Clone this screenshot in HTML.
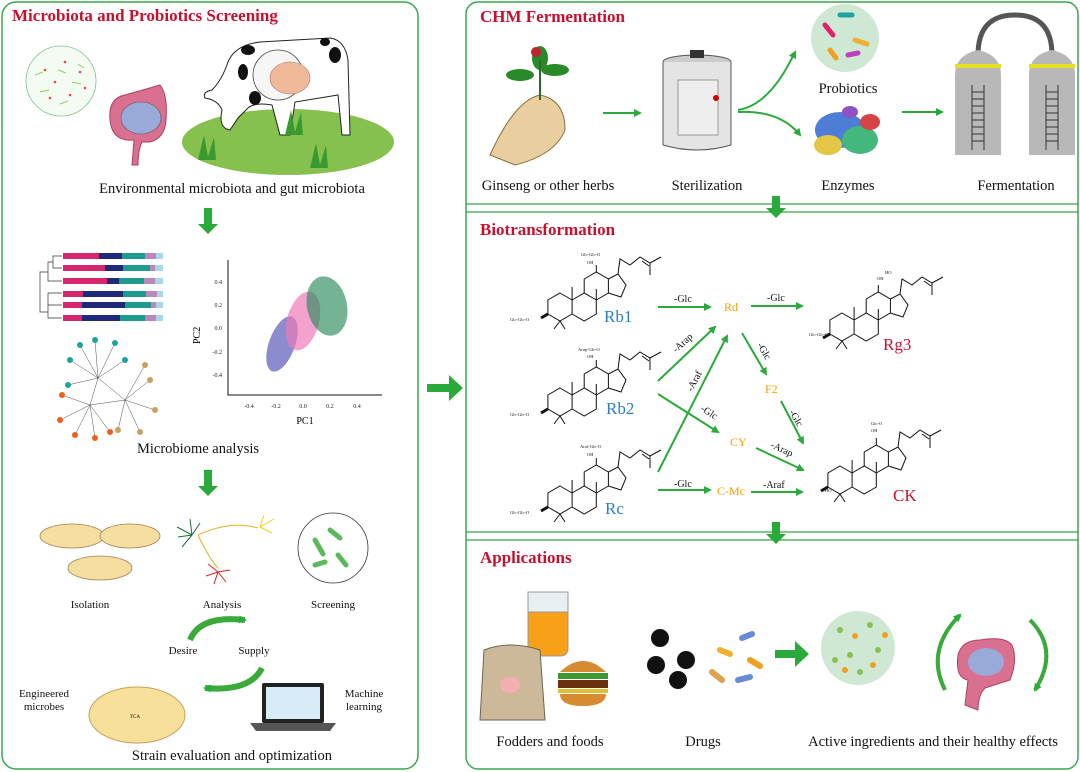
<!DOCTYPE html>
<html><head><meta charset="utf-8"><style>
html,body{margin:0;padding:0;background:#fff}
svg{display:block}
text{font-family:"Liberation Serif",serif}
.t{font-size:14.5px;fill:#111}
.h{font-size:17px;font-weight:bold;fill:#c8102e}
.ax{font-size:6px;fill:#222}
.bl{font-size:17px;fill:#2a7fc8}
.rd{font-size:17px;fill:#c8102e}
.or{font-size:12px;fill:#f5a000}
.en{font-size:10px;fill:#111}
.sub{font-size:4.5px;fill:#111}
</style></head><body>
<svg width="1080" height="772" viewBox="0 0 1080 772" xmlns="http://www.w3.org/2000/svg">
<defs>
<marker id="ah" markerWidth="8" markerHeight="8" refX="6" refY="4" orient="auto" markerUnits="userSpaceOnUse"><path d="M0,0 L8,4 L0,8 Z" fill="#2aaa3a"/></marker>
<g id="ster" fill="none" stroke="#111" stroke-width="1">
<path d="M0,-14 L12.1,-7 L12.1,7 L0,14 L-12.1,7 L-12.1,-7 Z"/>
<path d="M12.1,-7 L24.2,-14 L36.3,-7 L36.3,7 L24.2,14 L12.1,7"/>
<path d="M24.2,-14 L24.2,-28 L36.3,-35 L48.4,-28 L48.4,-14 L36.3,-7"/>
<path d="M48.4,-28 L58,-33 L66,-22 L61,-10 L48.4,-14"/>
<path d="M58,-33 L60,-48 L70,-42 L80,-50 L90,-44 L101,-50 M90,-44 L90,-32 M82,-46 L89,-41"/>
<path d="M12.1,-7 L12.1,-20 M36.3,-7 L36.3,-18 M36.3,-35 L36.3,-42 M0,14 L-6,22 M0,14 L5,22"/>
<path d="M-12.1,7 L-19,11" stroke-width="3"/>
</g>
</defs>

<!-- panels -->
<rect x="2" y="2" width="416" height="767" rx="14" fill="none" stroke="#3aa84a" stroke-width="1.5"/>
<rect x="466" y="2" width="612" height="767" rx="12" fill="none" stroke="#3aa84a" stroke-width="1.5"/>
<line x1="466" y1="204" x2="1078" y2="204" stroke="#3aa84a" stroke-width="1.3"/>
<line x1="466" y1="212" x2="1078" y2="212" stroke="#3aa84a" stroke-width="1.3"/>
<line x1="466" y1="532" x2="1078" y2="532" stroke="#3aa84a" stroke-width="1.3"/>
<line x1="466" y1="540" x2="1078" y2="540" stroke="#3aa84a" stroke-width="1.3"/>

<!-- left panel -->
<text class="h" x="12" y="21">Microbiota and Probiotics Screening</text>
<circle cx="61" cy="81" r="35" fill="#f4fbf2" stroke="#7cc08a" stroke-width="0.8"/>
<g fill="#e44"><circle cx="45" cy="70" r="1.3"/><circle cx="55" cy="82" r="1.3"/><circle cx="70" cy="95" r="1.3"/><circle cx="80" cy="72" r="1.3"/><circle cx="50" cy="98" r="1.3"/><circle cx="65" cy="62" r="1.3"/><circle cx="85" cy="88" r="1.3"/></g>
<g stroke="#9c6" stroke-width="1"><path d="M35,75 l8,-3 M58,70 l8,3 M40,92 l9,-2 M72,82 l9,2 M60,104 l8,-3 M78,64 l6,4"/></g>
<!-- intestine -->
<path d="M132,165 L134,140 Q112,142 110,120 Q108,98 125,95 Q150,88 160,85 Q168,95 166,120 Q165,138 150,142 L142,142 Q138,150 138,165 Z" fill="#d9708f" stroke="#b04060" stroke-width="1"/>
<ellipse cx="141" cy="118" rx="20" ry="16" fill="#9aaad8" stroke="#556" stroke-width="0.6"/>
<!-- field & cow -->
<ellipse cx="288" cy="142" rx="106" ry="33" fill="#86c04e"/>
<path d="M228,62 Q235,45 260,42 L330,38 Q345,40 348,60 L350,135 L342,135 L338,95 L295,102 L290,135 L280,135 L272,105 Q255,102 248,108 L238,118 L230,130 Q218,128 222,110 Q218,100 205,98 Q202,92 212,90 Q222,80 228,62 Z" fill="#fff" stroke="#222" stroke-width="1"/>
<circle cx="278" cy="75" r="25" fill="#f6f6f6" stroke="#444" stroke-width="0.8"/>
<ellipse cx="290" cy="78" rx="20" ry="16" fill="#f0b999" stroke="#a76" stroke-width="0.6"/>
<g fill="#111"><ellipse cx="248" cy="50" rx="7" ry="5"/><ellipse cx="243" cy="72" rx="5" ry="8"/><ellipse cx="255" cy="98" rx="6" ry="7"/><ellipse cx="335" cy="55" rx="6" ry="8"/><ellipse cx="325" cy="42" rx="5" ry="4"/></g>
<g fill="#3a9a30"><path d="M198,160 l6,-25 l4,22 l6,-20 l2,23 z"/><path d="M285,135 l6,-25 l4,22 l6,-20 l2,23 z"/><path d="M310,168 l6,-25 l4,22 l6,-20 l2,23 z"/></g>
<text class="t" x="232" y="193" text-anchor="middle">Environmental microbiota and gut microbiota</text>
<path d="M204,208 h8 v16 h6 l-10,10 l-10,-10 h6 z" fill="#2aaa3a"/>
<!-- bars -->
<g>
<g transform="translate(63,253)"><rect width="36" height="6" fill="#d6266e"/><rect x="36" width="23" height="6" fill="#1e2a78"/><rect x="59" width="23" height="6" fill="#1f9a8e"/><rect x="82" width="11" height="6" fill="#bb88bb"/><rect x="93" width="7" height="6" fill="#a8d8e8"/></g>
<g transform="translate(63,265)"><rect width="42" height="6" fill="#d6266e"/><rect x="42" width="18" height="6" fill="#1e2a78"/><rect x="60" width="27" height="6" fill="#1f9a8e"/><rect x="87" width="5" height="6" fill="#bb88bb"/><rect x="92" width="8" height="6" fill="#a8d8e8"/></g>
<g transform="translate(63,278)"><rect width="44" height="6" fill="#d6266e"/><rect x="44" width="12" height="6" fill="#1e2a78"/><rect x="56" width="25" height="6" fill="#1f9a8e"/><rect x="81" width="11" height="6" fill="#bb88bb"/><rect x="92" width="8" height="6" fill="#a8d8e8"/></g>
<g transform="translate(63,291)"><rect width="20" height="6" fill="#d6266e"/><rect x="20" width="40" height="6" fill="#1e2a78"/><rect x="60" width="23" height="6" fill="#1f9a8e"/><rect x="83" width="11" height="6" fill="#bb88bb"/><rect x="94" width="6" height="6" fill="#a8d8e8"/></g>
<g transform="translate(63,302)"><rect width="19" height="6" fill="#d6266e"/><rect x="19" width="43" height="6" fill="#1e2a78"/><rect x="62" width="26" height="6" fill="#1f9a8e"/><rect x="88" width="5" height="6" fill="#bb88bb"/><rect x="93" width="7" height="6" fill="#a8d8e8"/></g>
<g transform="translate(63,315)"><rect width="19" height="6" fill="#d6266e"/><rect x="19" width="38" height="6" fill="#1e2a78"/><rect x="57" width="25" height="6" fill="#1f9a8e"/><rect x="82" width="11" height="6" fill="#bb88bb"/><rect x="93" width="7" height="6" fill="#a8d8e8"/></g>
<path d="M62,256 H53 V268 H62 M53,262 H48 V281 H62 M48,272 H40 V312 H48 M48,293 V318 H62 M48,305 H62 M48,293 H62" fill="none" stroke="#333" stroke-width="0.7"/>
</g>
<!-- scatter -->
<path d="M228,260 V395 H382" fill="none" stroke="#111" stroke-width="1"/>
<g class="ax" text-anchor="end"><text x="222" y="284">0.4</text><text x="222" y="307">0.2</text><text x="222" y="330">0.0</text><text x="222" y="354">-0.2</text><text x="222" y="377">-0.4</text></g>
<g class="ax" text-anchor="middle"><text x="249" y="408">-0.4</text><text x="276" y="408">-0.2</text><text x="303" y="408">0.0</text><text x="330" y="408">0.2</text><text x="357" y="408">0.4</text></g>
<text x="305" y="424" text-anchor="middle" style="font-size:10px">PC1</text>
<text x="0" y="0" transform="translate(200,344) rotate(-90)" style="font-size:10px">PC2</text>
<ellipse cx="282" cy="344" rx="13" ry="29" transform="rotate(20 282 344)" fill="#5a5ab8" opacity="0.7"/>
<ellipse cx="303" cy="321" rx="16" ry="30" transform="rotate(15 303 321)" fill="#ee7ab8" opacity="0.7"/>
<ellipse cx="327" cy="306" rx="20" ry="30" transform="rotate(-12 327 306)" fill="#2a8a5a" opacity="0.65"/>
<!-- network -->
<g stroke="#222" stroke-width="0.4" fill="none">
<path d="M98,378 L80,345 M98,378 L95,340 M98,378 L115,343 M98,378 L70,360 M98,378 L125,360 M98,378 L68,385 M90,405 L62,395 M90,405 L60,420 M90,405 L75,435 M90,405 L95,438 M90,405 L110,432 M125,400 L150,380 M125,400 L155,410 M125,400 L140,432 M125,400 L118,430 M125,400 L145,365 M98,378 L90,405 L125,400 L98,378"/>
</g>
<g fill="#1ba39c"><circle cx="80" cy="345" r="3"/><circle cx="95" cy="340" r="3"/><circle cx="115" cy="343" r="3"/><circle cx="70" cy="360" r="3"/><circle cx="68" cy="385" r="3"/><circle cx="125" cy="360" r="3"/></g>
<g fill="#f06018"><circle cx="62" cy="395" r="3"/><circle cx="60" cy="420" r="3"/><circle cx="75" cy="435" r="3"/><circle cx="95" cy="438" r="3"/><circle cx="110" cy="432" r="3"/></g>
<g fill="#c9a060"><circle cx="150" cy="380" r="3"/><circle cx="155" cy="410" r="3"/><circle cx="140" cy="432" r="3"/><circle cx="118" cy="430" r="3"/><circle cx="145" cy="365" r="3"/></g>
<text class="t" x="198" y="453" text-anchor="middle">Microbiome analysis</text>
<path d="M204,470 h8 v16 h6 l-10,10 l-10,-10 h6 z" fill="#2aaa3a"/>
<!-- petri -->
<g stroke="#a08050" stroke-width="0.8" fill="#f4dfa0"><ellipse cx="72" cy="536" rx="32" ry="12"/><ellipse cx="130" cy="536" rx="30" ry="12"/><ellipse cx="100" cy="568" rx="32" ry="12"/></g>
<text class="en" x="90" y="608" text-anchor="middle" style="font-size:11px">Isolation</text>
<g stroke="#1e6a3a" stroke-width="1"><path d="M192,535 l-15,-8 M192,535 l-14,2 M192,535 l-10,12 M192,535 l-2,-16 M192,535 l8,-12"/></g>
<g stroke="#f0d020" stroke-width="1"><path d="M260,527 l14,-8 M260,527 l12,6 M260,527 l4,-12"/></g>
<g stroke="#e02020" stroke-width="1"><path d="M218,572 l-10,-8 M218,572 l-12,4 M218,572 l-4,12 M218,572 l8,10 M218,572 l12,-2"/></g>
<path d="M198,535 Q210,560 218,568 M198,535 Q230,520 258,528" fill="none" stroke="#e0b020" stroke-width="1"/>
<text class="en" x="222" y="608" text-anchor="middle" style="font-size:11px">Analysis</text>
<circle cx="333" cy="548" r="35" fill="#fff" stroke="#333" stroke-width="0.8"/>
<g stroke="#5cb85c" stroke-width="5" stroke-linecap="round"><path d="M315,540 l8,14 M330,530 l10,8 M338,555 l8,10 M315,565 l10,-3"/></g>
<text class="en" x="333" y="608" text-anchor="middle" style="font-size:11px">Screening</text>
<path d="M190,640 Q200,615 245,620" fill="none" stroke="#3aaa3a" stroke-width="6" marker-end="url(#ah)"/>
<path d="M262,668 Q250,692 205,688" fill="none" stroke="#3aaa3a" stroke-width="6" marker-end="url(#ah)"/>
<text class="en" x="183" y="654" text-anchor="middle" style="font-size:11px">Desire</text>
<text class="en" x="254" y="654" text-anchor="middle" style="font-size:11px">Supply</text>
<ellipse cx="137" cy="715" rx="48" ry="28" fill="#f7e09a" stroke="#c9a060"/>
<text x="130" y="718" style="font-size:5px">TCA</text>
<text class="en" x="44" y="697" text-anchor="middle" style="font-size:11px">Engineered</text>
<text class="en" x="44" y="710" text-anchor="middle" style="font-size:11px">microbes</text>
<rect x="262" y="683" width="62" height="40" rx="2" fill="#222"/>
<rect x="266" y="687" width="54" height="32" fill="#d8ecf8"/>
<path d="M250,723 h86 l-6,8 h-74 z" fill="#555"/>
<text class="en" x="364" y="697" text-anchor="middle" style="font-size:11px">Machine</text>
<text class="en" x="364" y="710" text-anchor="middle" style="font-size:11px">learning</text>
<text class="t" x="232" y="760" text-anchor="middle">Strain evaluation and optimization</text>
<!-- big arrow -->
<path d="M427,384 h22 v-9 l14,13 l-14,13 v-9 h-22 z" fill="#2aaa3a"/>

<!-- CHM -->
<text class="h" x="480" y="22">CHM Fermentation</text>
<path d="M490,155 Q515,100 540,95 Q565,100 565,130 Q555,155 515,165 Z" fill="#e9cfa0" stroke="#8a6a3a"/>
<g fill="#2a8a2a"><ellipse cx="520" cy="75" rx="14" ry="6"/><ellipse cx="555" cy="70" rx="14" ry="6"/><ellipse cx="540" cy="58" rx="8" ry="12"/></g>
<circle cx="536" cy="52" r="5" fill="#c02030"/>
<line x1="540" y1="60" x2="540" y2="100" stroke="#2a6a2a" stroke-width="2"/>
<text class="t" x="548" y="190" text-anchor="middle">Ginseng or other herbs</text>
<path d="M603,113 H640" stroke="#2aaa3a" stroke-width="2" marker-end="url(#ah)"/>
<ellipse cx="697" cy="62" rx="34" ry="7" fill="#ccc" stroke="#555"/>
<path d="M663,62 V145 Q697,155 731,145 V62" fill="#e4e4e4" stroke="#555"/>
<rect x="690" y="50" width="14" height="8" fill="#333"/>
<rect x="678" y="80" width="40" height="55" fill="#eee" stroke="#999"/>
<circle cx="716" cy="98" r="3" fill="#c00"/>
<text class="t" x="707" y="190" text-anchor="middle">Sterilization</text>
<path d="M738,110 Q770,105 795,52" fill="none" stroke="#2aaa3a" stroke-width="2" marker-end="url(#ah)"/>
<path d="M738,112 Q780,110 800,135" fill="none" stroke="#2aaa3a" stroke-width="2" marker-end="url(#ah)"/>
<circle cx="845" cy="38" r="34" fill="#cfe8d4"/>
<g stroke-width="5" stroke-linecap="round"><path d="M825,25 l8,10" stroke="#e0206a"/><path d="M840,15 l12,0" stroke="#20a0a0"/><path d="M855,40 l12,4" stroke="#f0b030"/><path d="M830,50 l6,8" stroke="#f0a020"/><path d="M848,55 l10,-2" stroke="#c040c0"/></g>
<text class="t" x="848" y="93" text-anchor="middle">Probiotics</text>
<g opacity="0.9"><ellipse cx="840" cy="130" rx="25" ry="18" fill="#3a70d0"/><ellipse cx="860" cy="140" rx="18" ry="14" fill="#30b070"/><ellipse cx="828" cy="145" rx="14" ry="10" fill="#e0c030"/><ellipse cx="870" cy="122" rx="10" ry="8" fill="#d03030"/><ellipse cx="850" cy="112" rx="8" ry="6" fill="#8040c0"/></g>
<text class="t" x="848" y="190" text-anchor="middle">Enzymes</text>
<path d="M902,112 H942" stroke="#2aaa3a" stroke-width="2" marker-end="url(#ah)"/>
<path d="M978,55 Q978,15 1015,15 Q1052,15 1052,55" fill="none" stroke="#555" stroke-width="5"/>
<path d="M955,75 Q955,55 978,50 Q1001,55 1001,75 V155 H955 Z" fill="#b8b8b8"/>
<path d="M1029,75 Q1029,55 1052,50 Q1075,55 1075,75 V155 H1029 Z" fill="#b8b8b8"/>
<rect x="955" y="64" width="46" height="4" fill="#e4e020"/><rect x="1029" y="64" width="46" height="4" fill="#e4e020"/>
<g stroke="#333" stroke-width="1" fill="none"><path d="M972,85 V150 M984,85 V150 M972,92h12 M972,99h12 M972,106h12 M972,113h12 M972,120h12 M972,127h12 M972,134h12 M972,141h12"/><path d="M1046,85 V150 M1058,85 V150 M1046,92h12 M1046,99h12 M1046,106h12 M1046,113h12 M1046,120h12 M1046,127h12 M1046,134h12 M1046,141h12"/></g>
<text class="t" x="1016" y="190" text-anchor="middle">Fermentation</text>
<path d="M772,196 h8 v12 h6 l-10,10 l-10,-10 h6 z" fill="#2aaa3a"/>

<!-- Biotransformation -->
<text class="h" x="480" y="235">Biotransformation</text>
<use href="#ster" x="560" y="307"/>
<use href="#ster" x="560" y="402"/>
<use href="#ster" x="560" y="500"/>
<use href="#ster" x="842" y="327"/>
<use href="#ster" x="840" y="480"/>
<text class="sub" x="510" y="321">Glc-Glc-O</text>
<text class="sub" x="510" y="416">Glc-Glc-O</text>
<text class="sub" x="510" y="514">Glc-Glc-O</text>
<text class="sub" x="809" y="336">Glc-Glc-O</text>
<text class="sub" x="825" y="492">HO</text>
<text class="sub" x="581" y="256">Glc-Glc-O</text>
<text class="sub" x="578" y="351">Arap-Glc-O</text>
<text class="sub" x="580" y="448">Araf-Glc-O</text>
<text class="sub" x="885" y="274">HO</text>
<text class="sub" x="871" y="425">Glc-O</text>
<g class="sub"><text x="587" y="264">OH</text><text x="587" y="358">OH</text><text x="587" y="456">OH</text><text x="877" y="280">OH</text><text x="871" y="432">OH</text></g>
<text class="bl" x="604" y="322">Rb1</text>
<text class="bl" x="606" y="414">Rb2</text>
<text class="bl" x="605" y="514">Rc</text>
<text class="rd" x="883" y="350">Rg3</text>
<text class="rd" x="893" y="501">CK</text>
<text class="or" x="724" y="311">Rd</text>
<text class="or" x="765" y="393">F2</text>
<text class="or" x="730" y="446">CY</text>
<text class="or" x="717" y="495">C-Mc</text>
<g stroke="#2aaa3a" stroke-width="2" marker-end="url(#ah)">
<path d="M658,307 H710"/><path d="M751,306 H802"/>
<path d="M658,381 L715,327"/><path d="M658,472 L727,336"/>
<path d="M658,394 L718,432"/><path d="M742,333 L766,374"/>
<path d="M781,401 L803,443"/><path d="M756,448 L803,470"/>
<path d="M751,492 H802"/><path d="M658,490 H710"/>
</g>
<g class="en">
<text x="674" y="302">-Glc</text><text x="767" y="301">-Glc</text><text x="674" y="487">-Glc</text><text x="763" y="488">-Araf</text>
<text transform="translate(676,353) rotate(-42)">-Arap</text>
<text transform="translate(692,392) rotate(-62)">-Araf</text>
<text transform="translate(700,410) rotate(33)">-Glc</text>
<text transform="translate(757,345) rotate(60)">-Glc</text>
<text transform="translate(789,412) rotate(60)">-Glc</text>
<text transform="translate(770,447) rotate(25)">-Arap</text>
</g>
<path d="M772,522 h8 v12 h6 l-10,10 l-10,-10 h6 z" fill="#2aaa3a"/>

<!-- Applications -->
<text class="h" x="480" y="563">Applications</text>
<path d="M528,598 h40 v50 q0,8 -8,8 h-24 q-8,0 -8,-8 z" fill="#f8a018" stroke="#999"/>
<rect x="528" y="592" width="40" height="20" fill="#e8f0f4" stroke="#999"/>
<path d="M484,650 Q510,640 540,650 L545,720 H480 Z" fill="#cdb89a" stroke="#665"/>
<ellipse cx="510" cy="685" rx="10" ry="8" fill="#f4b0b0"/>
<path d="M560,672 Q583,650 606,672 Z" fill="#d88a30"/>
<rect x="558" y="673" width="50" height="6" fill="#3a9a30"/>
<rect x="558" y="680" width="50" height="8" fill="#6a3010"/>
<rect x="558" y="689" width="50" height="4" fill="#e0c030"/>
<path d="M560,694 h46 q0,12 -23,12 q-23,0 -23,-12 z" fill="#d88a30"/>
<text class="t" x="550" y="746" text-anchor="middle">Fodders and foods</text>
<g fill="#111"><circle cx="660" cy="638" r="9"/><circle cx="686" cy="660" r="9"/><circle cx="656" cy="665" r="9"/><circle cx="678" cy="680" r="9"/></g>
<g stroke-width="6" stroke-linecap="round"><path d="M720,650 l10,4" stroke="#f0b030"/><path d="M742,638 l10,-4" stroke="#6a8ad8"/><path d="M712,672 l10,8" stroke="#e0a050"/><path d="M738,680 l12,-3" stroke="#6a8ad8"/><path d="M750,660 l10,6" stroke="#f0a020"/></g>
<text class="t" x="703" y="746" text-anchor="middle">Drugs</text>
<path d="M775,650 h20 v-9 l14,13 l-14,13 v-9 h-20 z" fill="#2aaa3a"/>
<circle cx="858" cy="648" r="37" fill="#cfe8d4"/>
<g fill="#8ac050"><circle cx="840" cy="630" r="3"/><circle cx="870" cy="625" r="3"/><circle cx="850" cy="655" r="3"/><circle cx="878" cy="650" r="3"/><circle cx="860" cy="672" r="3"/><circle cx="835" cy="660" r="3"/></g>
<g fill="#f0a020"><circle cx="855" cy="636" r="3"/><circle cx="885" cy="635" r="3"/><circle cx="845" cy="670" r="3"/><circle cx="873" cy="665" r="3"/></g>
<path d="M965,705 L968,680 Q955,678 958,655 Q962,640 980,640 Q1005,636 1012,645 Q1018,660 1010,680 L985,688 Q978,695 978,710 Z" fill="#d9708f" stroke="#b04060"/>
<ellipse cx="986" cy="662" rx="18" ry="14" fill="#9aaad8"/>
<path d="M945,690 Q925,650 960,615" fill="none" stroke="#3aaa3a" stroke-width="4" marker-end="url(#ah)"/>
<path d="M1030,620 Q1060,650 1035,690" fill="none" stroke="#3aaa3a" stroke-width="4" marker-end="url(#ah)"/>
<text class="t" x="933" y="746" text-anchor="middle">Active ingredients and their healthy effects</text>
</svg>
</body></html>
